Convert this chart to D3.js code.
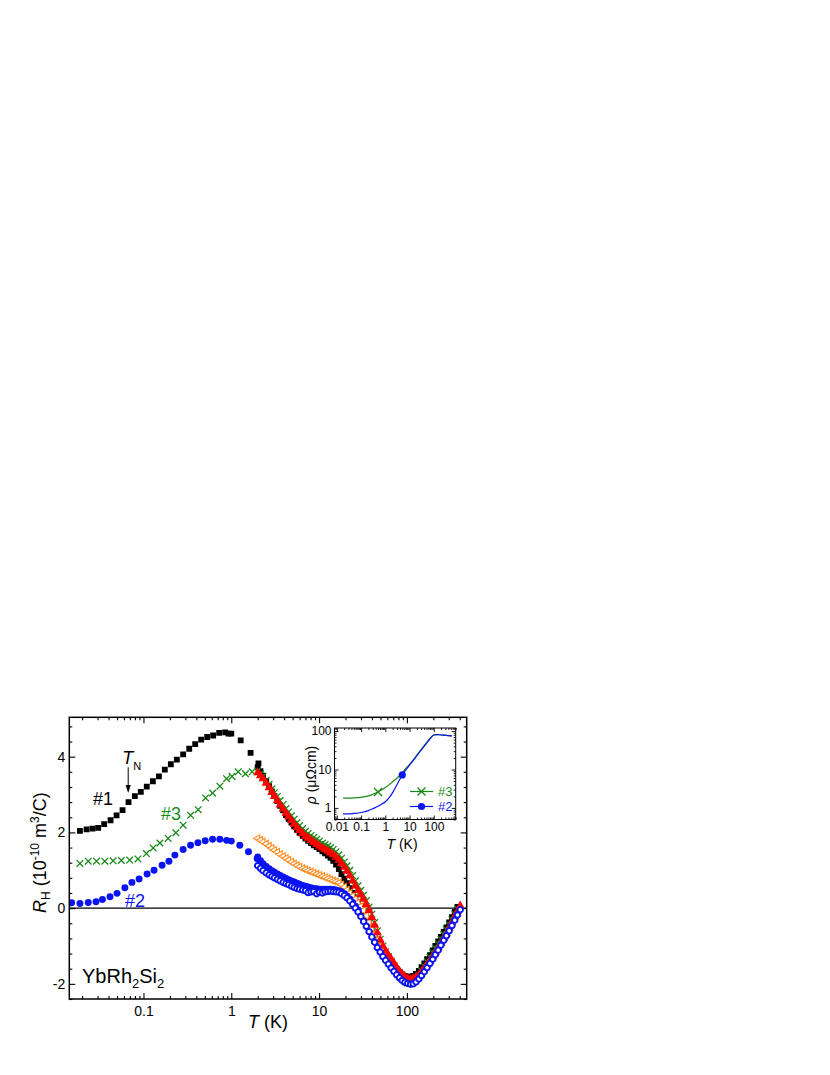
<!DOCTYPE html>
<html><head><meta charset="utf-8">
<script src="https://cdn.jsdelivr.net/npm/d3@7"></script>
<style>
body{margin:0;background:#fff}
svg{display:block}
text{font-family:"Liberation Sans",Arial,Helvetica,sans-serif;fill:#000}
</style>
</head><body>
<svg id="c" width="830" height="1075"></svg>
<script>
// ---------------- DATA ----------------
// Main panel: R_H (1e-10 m^3/C) vs T (K)
const xTickLabels = [0.1, 1, 10, 100];
const yTickLabels = [-2, 0, 2, 4];

// low-temperature data
const s1LowT = [0.0189,0.0225,0.0263,0.0305,0.0357,0.0422,0.0494,0.0578,0.0676,0.0798,0.0933,0.109,0.128,0.150,0.175,0.205,0.240,0.283,0.332,0.388,0.454,0.532,0.622,0.728,0.853,0.93,1.0,1.28,1.66,2.04];
const s1LowR = [2.04,2.08,2.10,2.12,2.22,2.32,2.45,2.59,2.80,2.96,3.07,3.21,3.35,3.48,3.66,3.80,3.92,4.06,4.21,4.33,4.45,4.52,4.56,4.63,4.64,4.61,4.61,4.43,4.10,3.82];

const s3LowT = [0.0189,0.0235,0.0292,0.0363,0.0451,0.056,0.0697,0.0866,0.108,0.129,0.154,0.191,0.234,0.283,0.344,0.420,0.510,0.612,0.742,0.884,1.02,1.20,1.45,1.73];
const s3LowR = [1.18,1.24,1.24,1.24,1.25,1.26,1.27,1.30,1.44,1.59,1.72,1.84,1.99,2.19,2.45,2.60,2.91,3.04,3.22,3.42,3.48,3.60,3.55,3.60];

const s2LowT = [0.0152,0.0189,0.0235,0.0288,0.0341,0.0416,0.0500,0.0614,0.0739,0.0892,0.110,0.132,0.163,0.195,0.228,0.283,0.344,0.417,0.505,0.612,0.741,0.884,1.0,1.25,1.57,1.97];
const s2LowR = [0.14,0.12,0.15,0.17,0.23,0.30,0.39,0.54,0.68,0.77,0.90,1.00,1.13,1.24,1.40,1.55,1.66,1.73,1.78,1.82,1.82,1.79,1.77,1.66,1.49,1.31];

// high-temperature data (common temperature grid)
const THigh = [2.0,2.15,2.3,2.5,2.7,2.9,3.1,3.35,3.6,3.9,4.2,4.5,4.85,5.2,5.6,6.0,6.5,7.0,7.5,8.1,8.7,9.4,10.1,10.9,11.7,12.6,13.5,14.5,15.6,16.8,18.0,19.4,20.8,22.4,24.1,25.9,27.8,29.9,32.1,34.5,37.1,39.9,42.9,46.1,49.6,53.3,57.3,61.6,66.2,71.2,76.5,82.3,88.5,95.1,102,110,118,127,137,147,158,170,183,197,211,227,244,263,282,303,326,351,377,405];

const s1HighR = [3.72,3.62,3.50,3.36,3.22,3.08,2.96,2.83,2.70,2.58, 2.46,2.36,2.26,2.16,2.07,1.99,1.91,1.84,1.78,1.72, 1.66,1.61,1.56,1.50,1.45,1.39,1.33,1.25,1.15,1.03, 0.90,0.78,0.66,0.53,0.40,0.28,0.16,0.04,-0.10,-0.24, -0.38,-0.53,-0.68,-0.84,-0.98,-1.10,-1.22,-1.32,-1.42,-1.52, -1.61,-1.69,-1.75,-1.79,-1.81,-1.81,-1.79,-1.74,-1.66,-1.56, -1.46,-1.35,-1.24,-1.12,-1.00,-0.88,-0.76,-0.63,-0.51,-0.38, -0.24,-0.10,0.03,null];

const s3HighR = [3.62,3.55,3.48,3.38,3.27,3.15,3.05,2.95,2.84,2.74, 2.63,2.54,2.44,2.35,2.26,2.18,2.10,2.03,1.97,1.92, 1.87,1.82,1.77,1.72,1.68,1.64,1.60,1.55,1.49,1.41, 1.32,1.22,1.12,1.00,0.86,0.72,0.59,0.47,0.34,0.20, 0.03,-0.16,-0.38,-0.60,-0.82,-1.00,-1.15,-1.28,-1.40,-1.52, -1.64,-1.76,-1.86,-1.94,-1.98,-1.98,-1.95,-1.88,-1.78,-1.66, -1.54,-1.42,-1.30,-1.18,-1.06,-0.94,-0.82,-0.70,-0.57,-0.44, -0.30,-0.16,-0.02,null];

const redHighR = [3.58,3.50,3.42,3.30,3.18,3.06,2.95,2.84,2.73,2.62, 2.51,2.42,2.32,2.22,2.13,2.05,1.97,1.90,1.85,1.79, 1.74,1.69,1.64,1.59,1.55,1.51,1.46,1.41,1.35,1.27, 1.18,1.08,0.98,0.86,0.72,0.59,0.47,0.36,0.24,0.10, -0.06,-0.25,-0.45,-0.65,-0.84,-1.00,-1.13,-1.24,-1.34,-1.45, -1.56,-1.66,-1.74,-1.81,-1.85,-1.87,-1.86,-1.82,-1.76,-1.68, -1.59,-1.49,-1.39,-1.28,-1.17,-1.05,-0.93,-0.80,-0.67,-0.53, -0.38,-0.23,-0.08,0.06];

const orangeHighR = [1.84,1.80,1.75,1.70,1.64,1.58,1.53,1.48,1.42,1.37, 1.32,1.27,1.22,1.17,1.13,1.09,1.05,1.02,0.99,0.96, 0.93,0.90,0.87,0.84,0.81,0.78,0.75,0.72,0.70,0.67, 0.62,0.56,0.48,0.40,0.32,0.24,0.15,0.05,-0.06,-0.20, -0.36,-0.52,-0.68,-0.84,-1.00,-1.14,-1.27,-1.38,null,null, null,null,null,null,null,null,null,null,null,null, null,null,null,null,null,null,null,null,null,null, null,null,null,null];

const s2HighR = [1.35,1.25,1.17,1.10,1.04,0.99,0.95,0.90,0.86,0.82, 0.78,0.75,0.72,0.69,0.66,0.63,0.60,0.58,0.56,0.54, 0.52,0.51,0.50,0.50,0.50,0.50,0.50,0.49,0.48,0.46, 0.43,0.38,0.32,0.24,0.15,0.05,-0.05,null,null,null, null,null,null,null,null,null,null,null,null,null, null,null,null,null,null,null,null,null,null,null, null,null,null,null,null,null,null,null,null,null, null,null,null,null];

const s2OpenR = [1.12,1.05,0.99,0.93,0.88,0.84,0.80,0.76,0.72,0.68, 0.65,0.62,0.58,0.55,0.52,0.50,0.48,0.46,0.41,0.43, 0.44,0.38,0.42,0.40,0.43,0.44,0.45,0.44,0.43,0.42, 0.38,0.33,0.27,0.19,0.10,0.00,-0.10,-0.22,-0.35,-0.48, -0.62,-0.76,-0.90,-1.04,-1.16,-1.28,-1.38,-1.48,-1.58,-1.67, -1.76,-1.84,-1.91,-1.96,-1.99,-2.01,-2.00,-1.95,-1.87,-1.78, -1.68,-1.57,-1.46,-1.35,-1.23,-1.11,-0.98,-0.85,-0.73,-0.60, -0.46,-0.32,-0.18,-0.04];

// Inset: resistivity rho (µΩcm) vs T (K)
const insetT = [0.018,0.03,0.05,0.1,0.2,0.3,0.5,0.7,1,1.5,2,3,5,7,10,15,20,30,50,70,100,130,170,250,400,550];
const rho3 = [1.8,1.8,1.82,1.88,2.05,2.25,2.6,2.95,3.4,4.1,4.8,5.9,8.3,10.6,13.5,18.5,23.5,33,50,65,79,81,80,78,76,75];
const rho2 = [0.7,0.7,0.72,0.76,0.85,0.95,1.1,1.25,1.45,1.9,2.5,4.0,7.2,9.8,13,18,23,32,48,63,79,81,80,78,76,75];
const insetMarker3 = [0.5, 2.6];
const insetMarker2 = [5, 7.2];
const insetXTicks = [0.01, 0.1, 1, 10, 100];
const insetYTicks = [1, 10, 100];

// ---------------- DRAWING ----------------
const svg = d3.select("#c");
const L = 69.3, R = 466.7, T = 717.3, B = 999;
const x = d3.scaleLog().domain([0.0143, 480]).range([L, R]);
const y = d3.scaleLinear().domain([-2.4, 5.04]).range([B, T]);

const C = {black:"#000", green:"#188a18", blue:"#0a14f0", red:"#ff0000", orange:"#ff8a1e"};

svg.append("defs").append("clipPath").attr("id","clipMain")
  .append("rect").attr("x",L).attr("y",T).attr("width",R-L).attr("height",B-T);

// zero line
svg.append("line").attr("x1",L).attr("x2",R).attr("y1",y(0)).attr("y2",y(0))
  .attr("stroke","#000").attr("stroke-width",1.3);

function logMinors(dom){
  const out=[];
  for(let e=-4;e<=4;e++) for(let k=2;k<=9;k++){const v=k*Math.pow(10,e); if(v>=dom[0]&&v<=dom[1]) out.push(v);}
  return out;
}
function styleAxis(g){ g.select(".domain").remove(); g.selectAll("line").attr("stroke","#000").attr("stroke-width",1.1); }

// main axes
const xMin = logMinors(x.domain());
const yMin = d3.range(-2.4, 5.05, 0.4).map(v=>+v.toFixed(2)).filter(v=>!yTickLabels.includes(Math.round(v*100)/100));
const fmtX = d=>String(d);
svg.append("g").attr("transform",`translate(0,${B})`).call(d3.axisBottom(x).tickValues(xTickLabels).tickSize(-6).tickPadding(7).tickFormat(fmtX))
  .call(styleAxis).call(g=>g.selectAll("text").attr("font-size",14).attr("font-family","Liberation Sans, Arial"));
svg.append("g").attr("transform",`translate(0,${B})`).call(d3.axisBottom(x).tickValues(xMin).tickSize(-3).tickFormat("")).call(styleAxis);
svg.append("g").attr("transform",`translate(0,${T})`).call(d3.axisTop(x).tickValues(xTickLabels).tickSize(-6).tickFormat("")).call(styleAxis);
svg.append("g").attr("transform",`translate(0,${T})`).call(d3.axisTop(x).tickValues(xMin).tickSize(-3).tickFormat("")).call(styleAxis);

svg.append("g").attr("transform",`translate(${L},0)`).call(d3.axisLeft(y).tickValues(yTickLabels).tickSize(-6).tickPadding(4).tickFormat(d=>String(d)))
  .call(styleAxis).call(g=>g.selectAll("text").attr("font-size",14).attr("font-family","Liberation Sans, Arial"));
svg.append("g").attr("transform",`translate(${L},0)`).call(d3.axisLeft(y).tickValues(yMin).tickSize(-3).tickFormat("")).call(styleAxis);
svg.append("g").attr("transform",`translate(${R},0)`).call(d3.axisRight(y).tickValues(yTickLabels).tickSize(-6).tickFormat("")).call(styleAxis);
svg.append("g").attr("transform",`translate(${R},0)`).call(d3.axisRight(y).tickValues(yMin).tickSize(-3).tickFormat("")).call(styleAxis);

// data layer
const gd = svg.append("g").attr("clip-path","url(#clipMain)");
function pts(Ts, Rs){ return Ts.map((t,i)=>({t, r:Rs[i]})).filter(d=>d.r!=null); }
function draw(data, pathStr, attrs){
  const sel = gd.append("g").selectAll("path").data(data).join("path")
    .attr("transform", d=>`translate(${x(d.t)},${y(d.r)})`).attr("d", pathStr);
  for(const k in attrs) sel.attr(k, attrs[k]);
  return sel;
}
const sq = d3.symbol().type(d3.symbolSquare).size(34)();
const circ = d3.symbol().type(d3.symbolCircle).size(38)();
const circOpen = d3.symbol().type(d3.symbolCircle).size(24)();
const tri = d3.symbol().type(d3.symbolTriangle).size(36)();
const triL = d3.symbol().type(d3.symbolTriangle).size(22)();
const xs = 3.3, xPath = `M${-xs},${-xs}L${xs},${xs}M${-xs},${xs}L${xs},${-xs}`;

draw(pts(s1LowT,s1LowR).concat(pts(THigh,s1HighR)), sq, {fill:C.black});
draw(pts(s3LowT,s3LowR).concat(pts(THigh,s3HighR)), xPath, {fill:"none", stroke:C.green, "stroke-width":1.3});
draw(pts(THigh,orangeHighR), triL, {fill:"#fff", stroke:C.orange, "stroke-width":1.1})
  .attr("transform", d=>`translate(${x(d.t)},${y(d.r)}) rotate(-90)`);
draw(pts(s2LowT,s2LowR).concat(pts(THigh,s2HighR)), circ, {fill:C.blue});
draw(pts(THigh,redHighR), tri, {fill:C.red});
draw(pts(THigh,s2OpenR), circOpen, {fill:"#fff", stroke:C.blue, "stroke-width":1.9});

// frame
svg.append("rect").attr("x",L).attr("y",T).attr("width",R-L).attr("height",B-T)
  .attr("fill","none").attr("stroke","#000").attr("stroke-width",1.5);

// axis titles
svg.append("text").attr("x",268).attr("y",1028).attr("text-anchor","middle").attr("font-size",18)
  .html('<tspan font-style="italic">T</tspan> (K)');
svg.append("text").attr("transform","translate(46,913) rotate(-90)").attr("font-size",18)
  .html('<tspan font-style="italic">R</tspan><tspan font-size="12" dy="4">H</tspan><tspan dy="-4"> (10</tspan><tspan font-size="12" dy="-7">-10</tspan><tspan dy="7"> m</tspan><tspan font-size="12" dy="-7">3</tspan><tspan dy="7">/C)</tspan>');

// annotations
svg.append("text").attr("x",93).attr("y",805).attr("font-size",18).text("#1");
svg.append("text").attr("x",161).attr("y",820).attr("font-size",18).style("fill",C.green).text("#3");
svg.append("text").attr("x",125).attr("y",907).attr("font-size",18).style("fill",C.blue).text("#2");
svg.append("text").attr("x",82).attr("y",983).attr("font-size",20)
  .html('YbRh<tspan font-size="13" dy="5">2</tspan><tspan dy="-5">Si</tspan><tspan font-size="13" dy="5">2</tspan>');
// T_N arrow
const ax = x(0.067);
svg.append("text").attr("x",ax-6).attr("y",763.5).attr("font-size",18)
  .html('<tspan font-style="italic">T</tspan><tspan font-size="11" dy="6">N</tspan>');
svg.append("line").attr("x1",ax).attr("x2",ax).attr("y1",y(3.72)).attr("y2",y(3.15)).attr("stroke","#000").attr("stroke-width",1);
svg.append("path").attr("d",`M${ax},${y(3.04)}L${ax-2.6},${y(3.04)-8}L${ax+2.6},${y(3.04)-8}Z`).attr("fill","#000");

// ---------------- INSET ----------------
const iL=334.5, iR=455.7, iT=728, iB=819.5;
const ix = d3.scaleLog().domain([0.008, 800]).range([iL, iR]);
const iy = d3.scaleLog().domain([0.5, 120]).range([iB, iT]);
svg.append("rect").attr("x",iL).attr("y",iT).attr("width",iR-iL).attr("height",iB-iT).attr("fill","#fff");
const ixMin = logMinors(ix.domain()), iyMin = logMinors(iy.domain());
function styleI(g){ g.select(".domain").remove(); g.selectAll("line").attr("stroke","#000").attr("stroke-width",0.9); g.selectAll("text").attr("font-size",12).attr("font-family","Liberation Sans, Arial"); }
svg.append("g").attr("transform",`translate(0,${iB})`).call(d3.axisBottom(ix).tickValues(insetXTicks).tickSize(-4).tickPadding(3).tickFormat(d=>String(d))).call(styleI);
svg.append("g").attr("transform",`translate(0,${iB})`).call(d3.axisBottom(ix).tickValues(ixMin).tickSize(-2).tickFormat("")).call(styleI);
svg.append("g").attr("transform",`translate(0,${iT})`).call(d3.axisTop(ix).tickValues(insetXTicks).tickSize(-4).tickFormat("")).call(styleI);
svg.append("g").attr("transform",`translate(0,${iT})`).call(d3.axisTop(ix).tickValues(ixMin).tickSize(-2).tickFormat("")).call(styleI);
svg.append("g").attr("transform",`translate(${iL},0)`).call(d3.axisLeft(iy).tickValues(insetYTicks).tickSize(-4).tickPadding(3).tickFormat(d=>String(d))).call(styleI);
svg.append("g").attr("transform",`translate(${iL},0)`).call(d3.axisLeft(iy).tickValues(iyMin).tickSize(-2).tickFormat("")).call(styleI);
svg.append("g").attr("transform",`translate(${iR},0)`).call(d3.axisRight(iy).tickValues(insetYTicks).tickSize(-4).tickFormat("")).call(styleI);
svg.append("g").attr("transform",`translate(${iR},0)`).call(d3.axisRight(iy).tickValues(iyMin).tickSize(-2).tickFormat("")).call(styleI);

const line = d3.line().x(d=>ix(d[0])).y(d=>iy(d[1])).curve(d3.curveMonotoneX);
svg.append("path").attr("d",line(insetT.map((t,i)=>[t,rho3[i]]))).attr("fill","none").attr("stroke",C.green).attr("stroke-width",1.2);
svg.append("path").attr("d",line(insetT.map((t,i)=>[t,rho2[i]]))).attr("fill","none").attr("stroke",C.blue).attr("stroke-width",1.2);
const xs2=4, xPath2=`M${-xs2},${-xs2}L${xs2},${xs2}M${-xs2},${xs2}L${xs2},${-xs2}`;
svg.append("path").attr("transform",`translate(${ix(insetMarker3[0])},${iy(insetMarker3[1])})`).attr("d",xPath2).attr("stroke",C.green).attr("stroke-width",1.3).attr("fill","none");
svg.append("circle").attr("cx",ix(insetMarker2[0])).attr("cy",iy(insetMarker2[1])).attr("r",3.6).attr("fill",C.blue);
svg.append("rect").attr("x",iL).attr("y",iT).attr("width",iR-iL).attr("height",iB-iT).attr("fill","none").attr("stroke","#000").attr("stroke-width",1);

// inset legend
const lg = svg.append("g");
lg.append("line").attr("x1",410).attr("x2",433).attr("y1",791.5).attr("y2",791.5).attr("stroke",C.green).attr("stroke-width",1.2);
lg.append("path").attr("transform","translate(421.5,791.5)").attr("d",xPath2).attr("stroke",C.green).attr("stroke-width",1.3);
lg.append("text").attr("x",438).attr("y",796).attr("font-size",13).style("fill",C.green).text("#3");
lg.append("line").attr("x1",410).attr("x2",433).attr("y1",806.5).attr("y2",806.5).attr("stroke",C.blue).attr("stroke-width",1.2);
lg.append("circle").attr("cx",421.5).attr("cy",806.5).attr("r",3.6).attr("fill",C.blue);
lg.append("text").attr("x",438).attr("y",811).attr("font-size",13).style("fill",C.blue).text("#2");

// inset titles
svg.append("text").attr("x",402).attr("y",848.5).attr("text-anchor","middle").attr("font-size",14)
  .html('<tspan font-style="italic">T</tspan> (K)');
svg.append("text").attr("transform","translate(316,775) rotate(-90)").attr("text-anchor","middle").attr("font-size",14)
  .html('<tspan font-style="italic">ρ</tspan> (μΩcm)');
</script>
</body></html>
